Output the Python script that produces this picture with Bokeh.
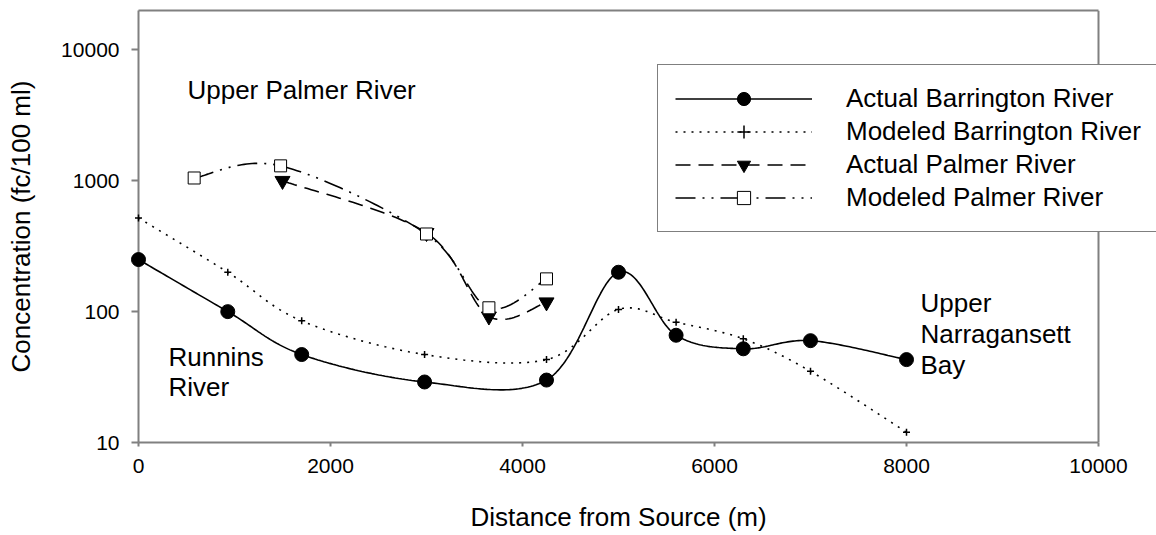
import numpy as np
from bokeh.plotting import figure
from bokeh.models import (Range1d, FixedTicker, LinearAxis, Legend,
                          LegendItem, Label, Span, Title)
from bokeh.embed import file_html
from bokeh.resources import INLINE

# ---------------- data ----------------
act_barr_x = [0, 930, 1700, 2980, 4250, 5000, 5600, 6300, 7000, 8000]
act_barr_y = [250, 100, 47, 29, 30, 200, 66, 52, 60, 43]

mod_barr_x = [0, 930, 1700, 2980, 4250, 5000, 5600, 6300, 7000, 8000]
mod_barr_y = [520, 200, 85, 47, 43, 104, 83, 62, 35, 12]

act_palm_x = [1500, 3000, 3650, 4250]
act_palm_y = [1000, 400, 92, 118]

mod_palm_x = [580, 1480, 3000, 3650, 4250]
mod_palm_y = [1050, 1300, 392, 107, 178]

x_ticks = [0, 2000, 4000, 6000, 8000, 10000]
x_tick_labels = ["0", "2000", "4000", "6000", "8000", "10000"]
y_ticks = [10, 100, 1000, 10000]
y_tick_labels = ["10", "100", "1000", "10000"]

X_MAX = 10000
Y_MIN, Y_MAX = 10, 20000

FONT = "Liberation Sans"
GRAY = "#808080"

# layout (pixels)
W, H = 1156, 535
LEFT, TOP, BOTTOM = 138, 10, 93
AXIS_W = 960          # pixel length of the 0..10000 axis
XLABEL_OFFSET = 332   # left edge of the x-axis title, from the frame's left
XLABEL_GAP = 26       # empty space between tick labels and the x-axis title


def smooth(xs, ys, n=40):
    """Catmull-Rom curve through the points in (x, log10 y) space, for drawing."""
    P = np.column_stack([np.asarray(xs, float), np.log10(np.asarray(ys, float))])
    E = np.vstack([P[0], P, P[-1]])
    t = np.linspace(0, 1, n)[:, None]
    out = []
    for i in range(len(P) - 1):
        p0, p1, p2, p3 = E[i], E[i + 1], E[i + 2], E[i + 3]
        seg = 0.5 * (2 * p1 + (-p0 + p2) * t
                     + (2 * p0 - 5 * p1 + 4 * p2 - p3) * t ** 2
                     + (-p0 + 3 * p1 - 3 * p2 + p3) * t ** 3)
        out.append(seg if i == 0 else seg[1:])
    C = np.vstack(out)
    return C[:, 0], 10 ** C[:, 1]


x_view_max = X_MAX * (W - LEFT) / AXIS_W
p = figure(width=W, height=H, output_backend="svg", toolbar_location=None,
           x_range=Range1d(0, x_view_max), y_range=Range1d(Y_MIN, Y_MAX),
           y_axis_type="log",
           min_border_left=LEFT, min_border_right=0,
           min_border_top=TOP, min_border_bottom=BOTTOM)
p.outline_line_color = None
p.grid.visible = False
p.background_fill_color = "white"
p.border_fill_color = "white"

# ---------------- axes ----------------
xa = p.xaxis[0]
xa.ticker = FixedTicker(ticks=x_ticks)
xa.major_label_overrides = dict(zip(x_ticks, x_tick_labels))
xa.bounds = (0, X_MAX)
ya = p.yaxis[0]
ya.ticker = FixedTicker(ticks=y_ticks)
ya.major_label_overrides = dict(zip(y_ticks, y_tick_labels))
ya.axis_label = "Concentration (fc/100 ml)"

for ax, tout in ((xa, 4), (ya, 7)):
    ax.axis_line_color = GRAY
    ax.axis_line_width = 2
    ax.major_tick_line_color = GRAY
    ax.major_tick_line_width = 2
    ax.major_tick_in = 0
    ax.major_tick_out = tout
    ax.minor_tick_line_color = None
    ax.major_label_text_font = FONT
    ax.major_label_text_font_size = "21px"
    ax.major_label_text_color = "black"
    ax.major_label_standoff = 12
    ax.axis_label_text_font = FONT
    ax.axis_label_text_font_size = "26px"
    ax.axis_label_text_font_style = "normal"
    ax.axis_label_text_color = "black"
    ax.axis_label_standoff = 22

# invisible spacer below the tick labels, then the x-axis title
spacer = LinearAxis(ticker=FixedTicker(ticks=[0]), axis_line_color=None,
                    major_tick_line_color=None, minor_tick_line_color=None,
                    major_tick_in=0, major_tick_out=XLABEL_GAP,
                    minor_tick_in=0, minor_tick_out=0,
                    major_label_standoff=0,
                    major_label_overrides={0: ""},
                    major_label_text_font_size="1px")
p.add_layout(spacer, "below")
p.add_layout(Title(text="Distance from Source (m)", align="left",
                   vertical_align="top", offset=XLABEL_OFFSET,
                   text_font=FONT, text_font_size="26px",
                   text_font_style="normal", text_color="black",
                   standoff=0), "below")

top = LinearAxis(ticker=FixedTicker(ticks=[]), axis_line_color=GRAY,
                 axis_line_width=2, major_tick_line_color=None,
                 minor_tick_line_color=None, major_tick_in=0,
                 major_tick_out=0, minor_tick_in=0, minor_tick_out=0,
                 major_label_standoff=0, bounds=(0, X_MAX))
p.add_layout(top, "above")
p.add_layout(Span(location=X_MAX, dimension="height", line_color=GRAY,
                  line_width=2))

# ---------------- series ----------------
sx, sy = smooth(act_barr_x, act_barr_y)
l1 = p.line(sx, sy, line_color="black", line_width=1.6)
m1 = p.scatter(act_barr_x, act_barr_y, marker="circle", size=14,
               fill_color="black", line_color="black", level="overlay")

sx, sy = smooth(mod_barr_x, mod_barr_y)
l2 = p.line(sx, sy, line_color="black", line_width=1.6, line_dash="2 6")
m2 = p.scatter(mod_barr_x, mod_barr_y, marker="cross", size=7,
               line_color="black", line_width=1.5, level="overlay")

sx, sy = smooth(act_palm_x, act_palm_y)
l3 = p.line(sx, sy, line_color="black", line_width=1.6, line_dash="15 8")
m3 = p.scatter(act_palm_x, act_palm_y, marker="inverted_triangle", size=15,
               fill_color="black", line_color="black", level="overlay")

sx, sy = smooth(mod_palm_x, mod_palm_y)
l4 = p.line(sx, sy, line_color="black", line_width=1.6,
            line_dash="20 7 2 7 2 7")
m4 = p.scatter(mod_palm_x, mod_palm_y, marker="square", size=12,
               fill_color="white", line_color="black", line_width=1,
               level="overlay")

legend = Legend(items=[
    LegendItem(label="Actual Barrington River", renderers=[l1, m1]),
    LegendItem(label="Modeled Barrington River", renderers=[l2, m2]),
    LegendItem(label="Actual Palmer River", renderers=[l3, m3]),
    LegendItem(label="Modeled Palmer River", renderers=[l4, m4]),
], location=(519, 210))
legend.glyph_width = 137
legend.glyph_height = 33
legend.label_height = 33
legend.spacing = 0
legend.padding = 17
legend.margin = 0
legend.label_standoff = 34
legend.label_text_font = FONT
legend.label_text_font_size = "26px"
legend.label_text_color = "black"
legend.border_line_color = "black"
legend.border_line_width = 1
legend.background_fill_color = "white"
legend.background_fill_alpha = 1
p.add_layout(legend, "center")

# ---------------- annotations ----------------
notes = [
    (510, 4950, "Upper Palmer River"),
    (312, 45.3, "Runnins"),
    (312, 26.7, "River"),
    (8146, 117, "Upper"),
    (8146, 68, "Narragansett"),
    (8146, 39.3, "Bay"),
]
for nx, ny, txt in notes:
    p.add_layout(Label(x=nx, y=ny, text=txt, text_font=FONT,
                       text_font_size="26px", text_color="black",
                       text_baseline="alphabetic", text_align="left"))

open("out.html", "w").write(file_html(p, INLINE))
